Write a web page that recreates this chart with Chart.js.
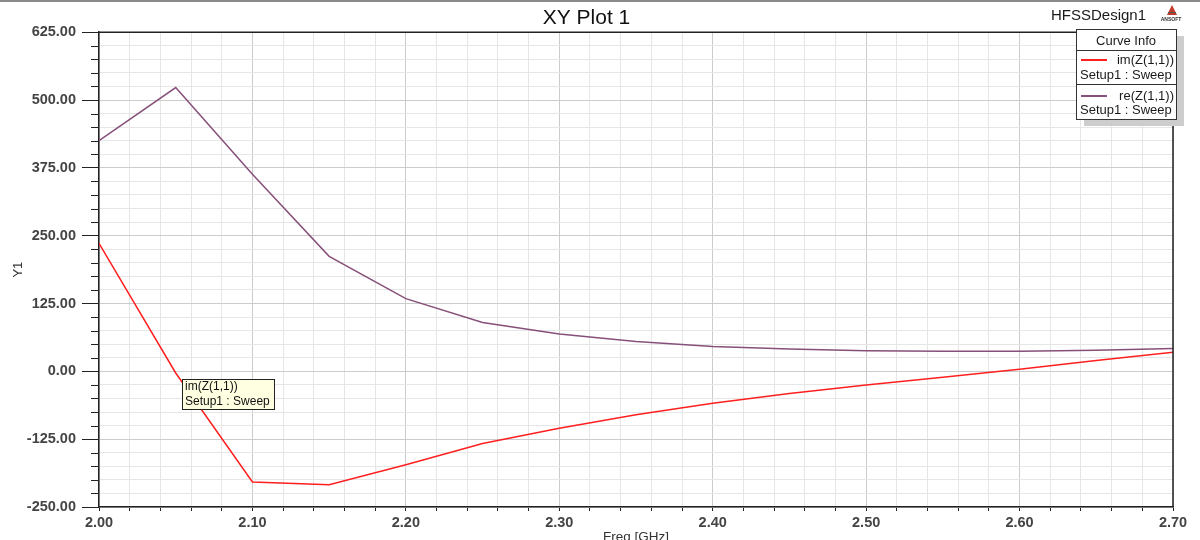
<!DOCTYPE html>
<html>
<head>
<meta charset="utf-8">
<title>XY Plot 1</title>
<script src="https://cdn.jsdelivr.net/npm/chart.js@4.4.1/dist/chart.umd.min.js"></script>
<style>
  html, body { margin: 0; padding: 0; background: #fff; }
  #wrap { width: 1200px; height: 540px; position: relative; }
</style>
</head>
<body>
<div id="wrap"><canvas id="myChart" width="1200" height="540"></canvas></div>
<script>
// frequency sweep points (GHz)
const freq = [2.00, 2.05, 2.10, 2.15, 2.20, 2.25, 2.30, 2.35, 2.40, 2.45, 2.50, 2.55, 2.60, 2.65, 2.70];
// Z(1,1) in ohms
const imZ = [236, -3, -204, -209, -172, -133, -105, -80, -59, -41, -25, -11, 4, 20, 35];
const reZ = [425, 523, 363, 212, 134, 90, 69, 55, 46, 41, 38, 37, 37, 39, 42];

const seriesNames = ['im(Z(1,1))', 're(Z(1,1))'];
const sweepName = 'Setup1 : Sweep';
const xTicks = ['2.00', '2.10', '2.20', '2.30', '2.40', '2.50', '2.60', '2.70'];
const yTicks = ['-250.00', '-125.00', '0.00', '125.00', '250.00', '375.00', '500.00', '625.00'];

const FONT = '"Liberation Sans", Arial, sans-serif';
const RED = '#ff1f1f';
const PURPLE = '#86507a';

function toPoints(ys) {
    return freq.map((f, i) => ({x: f, y: ys[i]}));
}

function isMajor(ctx) {
    return ctx.index % 5 === 0;
}

// frame, minor y ticks, curve info box, tag, header
const decor = {
    id: 'decor',
    afterDraw(chart) {
        const c = chart.ctx;
        const a = chart.chartArea;
        const ys = chart.scales.y;
        c.save();

        // minor ticks on the y axis
        c.strokeStyle = '#222';
        c.lineWidth = 1;
        ys.ticks.forEach((t, i) => {
            if (i % 5 === 0) return;
            const py = Math.round(ys.getPixelForValue(t.value)) + 0.5;
            c.beginPath();
            c.moveTo(a.left - 8, py);
            c.lineTo(a.left, py);
            c.stroke();
        });

        // top and right frame
        c.lineWidth = 1.5;
        c.strokeStyle = '#222';
        c.beginPath();
        c.moveTo(a.left, a.top);
        c.lineTo(a.right, a.top);
        c.lineTo(a.right, a.bottom);
        c.stroke();

        // outer window edge
        c.strokeStyle = '#8a8a8a';
        c.lineWidth = 2;
        c.beginPath();
        c.moveTo(0, 1);
        c.lineTo(1200, 1);
        c.stroke();

        // header on the right
        c.fillStyle = '#1a1a1a';
        c.font = '15px ' + FONT;
        c.textAlign = 'left';
        c.textBaseline = 'middle';
        c.fillText('HFSSDesign1', 1051, 16);

        // little logo
        c.fillStyle = '#c0392b';
        c.beginPath();
        c.moveTo(1172, 5);
        c.lineTo(1177, 15);
        c.lineTo(1167, 15);
        c.closePath();
        c.fill();
        c.fillStyle = '#555';
        c.fillRect(1168, 12, 8, 1);
        c.font = 'bold 5px ' + FONT;
        c.textAlign = 'center';
        c.fillStyle = '#333';
        c.fillText('ANSOFT', 1171, 20);

        // curve info box
        const bx = 1076, by = 29, bw = 100, bh = 90;
        c.fillStyle = '#cdcdcd';
        c.fillRect(bx + 8, by + 7, bw, bh);
        c.fillStyle = '#fff';
        c.fillRect(bx, by, bw, bh);
        c.strokeStyle = '#333';
        c.lineWidth = 1;
        c.strokeRect(bx + 0.5, by + 0.5, bw, bh);
        c.beginPath();
        c.moveTo(bx, 50.5); c.lineTo(bx + bw, 50.5);
        c.moveTo(bx, 84.5); c.lineTo(bx + bw, 84.5);
        c.stroke();

        c.fillStyle = '#1a1a1a';
        c.font = '13px ' + FONT;
        c.textAlign = 'center';
        c.fillText('Curve Info', bx + bw / 2, 41);

        const rows = [[60, 75, RED], [96, 110, PURPLE]];
        chart.data.datasets.forEach((ds, i) => {
            const r = rows[i];
            c.strokeStyle = r[2];
            c.lineWidth = 2;
            c.beginPath();
            c.moveTo(1081, r[0]);
            c.lineTo(1107, r[0]);
            c.stroke();
            c.fillStyle = '#1a1a1a';
            c.textAlign = 'right';
            c.font = '13px ' + FONT;
            c.fillText(ds.label, 1174, r[0]);
            c.textAlign = 'left';
            c.font = '13px ' + FONT;
            c.fillText(sweepName, 1080, r[1]);
        });

        // marker tag on the im curve
        c.fillStyle = '#ffffe1';
        c.fillRect(182, 379, 92, 30);
        c.strokeStyle = '#222';
        c.lineWidth = 1;
        c.strokeRect(182.5, 379.5, 92, 30);
        c.fillStyle = '#111';
        c.font = '12px ' + FONT;
        c.textAlign = 'left';
        c.fillText(seriesNames[0], 185, 387);
        c.fillText(sweepName, 185, 402);

        c.restore();
    }
};

const ctx = document.getElementById('myChart').getContext('2d');
const myChart = new Chart(ctx, {
    type: 'line',
    data: {
        datasets: [{
            label: seriesNames[0],
            data: toPoints(imZ),
            borderColor: RED,
            borderWidth: 1.5,
            pointRadius: 0,
            tension: 0
        }, {
            label: seriesNames[1],
            data: toPoints(reZ),
            borderColor: PURPLE,
            borderWidth: 1.5,
            pointRadius: 0,
            tension: 0
        }]
    },
    options: {
        responsive: false,
        animation: false,
        layout: { padding: { left: 0, right: 27, top: 0, bottom: 0 } },
        plugins: {
            legend: { display: false },
            tooltip: { enabled: false },
            title: {
                display: true,
                text: 'XY Plot 1',
                color: '#111',
                font: { family: FONT, size: 21, weight: 'normal' },
                padding: { top: 6, bottom: 1 }
            }
        },
        scales: {
            x: {
                type: 'linear',
                min: 2.0,
                max: 2.7,
                afterFit: function(scale) { scale.height = 33; },
                border: { color: '#222', width: 1.5 },
                grid: {
                    color: ctx => isMajor(ctx) ? '#cccccc' : '#e6e6e6',
                    tickColor: '#222',
                    tickLength: 4
                },
                ticks: {
                    stepSize: 0.02,
                    autoSkip: false,
                    maxRotation: 0,
                    padding: 3,
                    color: '#444',
                    font: { family: FONT, size: 14.5, weight: 'bold' },
                    callback: function(value, index) {
                        return index % 5 === 0 ? xTicks[index / 5] : '';
                    }
                },
                title: {
                    display: true,
                    text: 'Freq [GHz]',
                    color: '#333',
                    font: { family: FONT, size: 13.5 },
                    padding: { top: 0, bottom: -5 }
                }
            },
            y: {
                min: -250,
                max: 625,
                afterFit: function(scale) { scale.width = 99; },
                border: { color: '#222', width: 1.5 },
                grid: {
                    color: ctx => isMajor(ctx) ? '#cccccc' : '#e6e6e6',
                    tickColor: ctx => isMajor(ctx) ? '#222' : 'rgba(0,0,0,0)',
                    tickLength: 17
                },
                ticks: {
                    stepSize: 25,
                    autoSkip: false,
                    padding: 6,
                    color: '#444',
                    font: { family: FONT, size: 14.5, weight: 'bold' },
                    callback: function(value, index) {
                        return index % 5 === 0 ? yTicks[index / 5] : '';
                    }
                },
                title: {
                    display: true,
                    text: 'Y1',
                    color: '#333',
                    font: { family: FONT, size: 13 },
                    padding: { top: 11, bottom: 0 }
                }
            }
        }
    },
    plugins: [decor]
});
</script>
</body>
</html>
